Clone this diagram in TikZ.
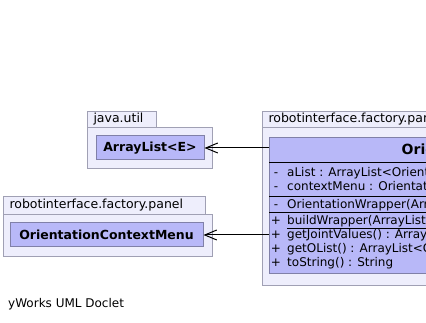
\documentclass[tikz,border=0pt]{standalone}
\usepackage{fontspec}
\setmainfont{DejaVu Sans}
\usetikzlibrary{arrows.meta}
\definecolor{pkgfill}{HTML}{EEEEFC}
\definecolor{pkgline}{HTML}{A0A0B4}
\definecolor{clsfill}{HTML}{B8B8F8}
\definecolor{clsline}{HTML}{8080A8}

\begin{document}
\begin{tikzpicture}[x=1pt,y=-1pt,
        pkg/.style={draw=pkgline,fill=pkgfill,line width=1pt,inner sep=0pt},
        pkgtab/.style={pkg,inner xsep=6pt,align=left,font=\fontsize{12.5}{14}\selectfont},
        cls/.style={draw=clsline,fill=clsfill,line width=1pt,inner sep=0pt,font=\fontsize{12.5}{14}\selectfont\bfseries},
        vis/.style={anchor=base,inner sep=0pt,font=\fontsize{12}{14}\selectfont},
        member/.style={anchor=base west,inner sep=0pt,font=\fontsize{12}{14}\selectfont},
        dep/.style={-{Straight Barb[length=12pt,width=10pt]},line width=1pt}]
            \useasboundingbox (0,0) rectangle (426,323);
            \clip (0,0) rectangle (426,323);
            \node[pkgtab, text width=57pt,  minimum height=16pt, anchor=north west] (utiltab)  at (87,111)  {java.util};
            \node[pkg,    minimum width=125pt, minimum height=41pt, anchor=north west] (util) at (87,127)  {};
            \node[cls,    minimum width=108pt, minimum height=24pt] (AL)  at (150,148)  {ArrayList<E>};
            \node[pkgtab, text width=190pt, minimum height=18pt, anchor=north west] (paneltab) at (3,196)   {robotinterface.factory.panel};
            \node[pkg,    minimum width=209pt, minimum height=42pt, anchor=north west] (panel) at (3,214)  {};
            \node[cls,    minimum width=193pt, minimum height=24pt] (OCM) at (106.5,235) {OrientationContextMenu};
            \node[pkgtab, text width=300pt, minimum height=16pt, anchor=north west] (wraptab)  at (262,111) {robotinterface.factory.panel};
            \node[pkg,    minimum width=450pt, minimum height=158pt, anchor=north west] (wrap) at (262,127) {};
            \node[cls,    minimum width=430pt, minimum height=136pt, anchor=north west] (OW) at (269,137) {};
            \node[anchor=base west, inner sep=0pt, font=\fontsize{14}{16}\selectfont\bfseries] (OWname) at (401.5,155) {OrientationWrapper};
            \draw (269,162) -- (699,162)
                  (269,196) -- (699,196)
                  (269,212) -- (699,212);
            \node[vis]    (v1) at (276,176.5) {-};
            \node[member] (m1) at (287,176.5) {aList : ArrayList<Orientation>};
            \node[vis]    (v2) at (276,190.5) {-};
            \node[member] (m2) at (287,190.5) {contextMenu : OrientationContextMenu};
            \node[vis]    (v3) at (276,208.5) {-};
            \node[member] (m3) at (287,208.5) {OrientationWrapper(ArrayList<Orientation>)};
            \node[vis]    (v4) at (276,224.5) {+};
            \node[member] (m4) at (287,224.5) {\underline{buildWrapper(ArrayList<Orientation>) : OrientationWrapper}};
            \node[vis]    (v5) at (276,238.5) {+};
            \node[member] (m5) at (287,238.5) {getJointValues() : ArrayList<Double>};
            \node[vis]    (v6) at (276,252.5) {+};
            \node[member] (m6) at (287,252.5) {getOList() : ArrayList<Orientation>};
            \node[vis]    (v7) at (276,266.5) {+};
            \node[member] (m7) at (287,266.5) {toString() : String};
            \path
                (OW.west |- AL)  edge [dep] (AL)
                (OW.west |- OCM) edge [dep] (OCM)
                ;
            \node[member] (doclet) at (8,308) {yWorks UML Doclet};
        \end{tikzpicture}
\end{document}
